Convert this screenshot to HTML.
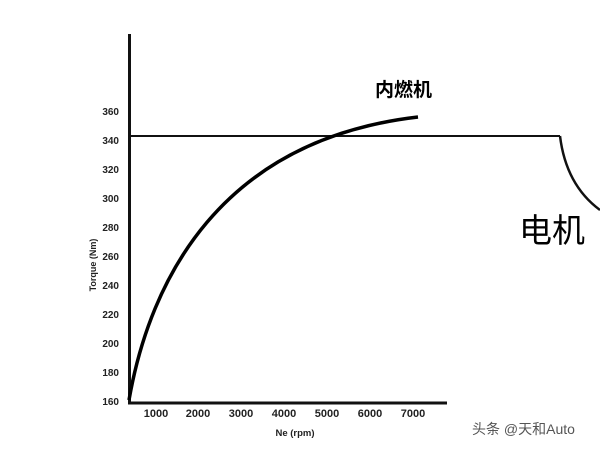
<!DOCTYPE html>
<html><head><style>body{margin:0;background:#fff}svg{display:block}</style></head><body>
<svg width="600" height="450" xmlns="http://www.w3.org/2000/svg" font-family="Liberation Sans, Noto Sans CJK SC, sans-serif">
<rect width="600" height="450" fill="#fff"/>
<line x1="129.5" y1="34" x2="129.5" y2="404" stroke="#111" stroke-width="3"/>
<line x1="128" y1="403" x2="447" y2="403" stroke="#111" stroke-width="3"/>
<line x1="131" y1="136" x2="560" y2="136" stroke="#111" stroke-width="2"/>
<path d="M560,136 Q566,185 600,210" fill="none" stroke="#111" stroke-width="2.5"/>
<path d="M129,400 C150,280 220,140 418,117" fill="none" stroke="#000" stroke-width="3.5"/>
<g font-size="10" font-weight="bold" fill="#222" text-anchor="end">
<text x="119" y="115">360</text><text x="119" y="144">340</text><text x="119" y="173">320</text>
<text x="119" y="202">300</text><text x="119" y="231">280</text><text x="119" y="260">260</text>
<text x="119" y="289">240</text><text x="119" y="318">220</text><text x="119" y="347">200</text>
<text x="119" y="376">180</text><text x="119" y="405">160</text>
</g>
<g font-size="11" font-weight="bold" fill="#222" text-anchor="middle">
<text x="156" y="417">1000</text><text x="198" y="417">2000</text><text x="241" y="417">3000</text>
<text x="284" y="417">4000</text><text x="327" y="417">5000</text><text x="370" y="417">6000</text><text x="413" y="417">7000</text>
</g>
<text x="295" y="436" font-size="9.5" font-weight="bold" fill="#222" text-anchor="middle">Ne (rpm)</text>
<text transform="translate(96,265) rotate(-90)" font-size="9" font-weight="bold" fill="#222" text-anchor="middle">Torque (Nm)</text>
<text x="375" y="96" font-size="19" font-weight="bold" fill="#000">内燃机</text>
<text x="519" y="242" font-size="33" fill="#000">电机</text>
<text x="472" y="434" font-size="14" fill="#555">头条 @天和Auto</text>
</svg>
</body></html>
